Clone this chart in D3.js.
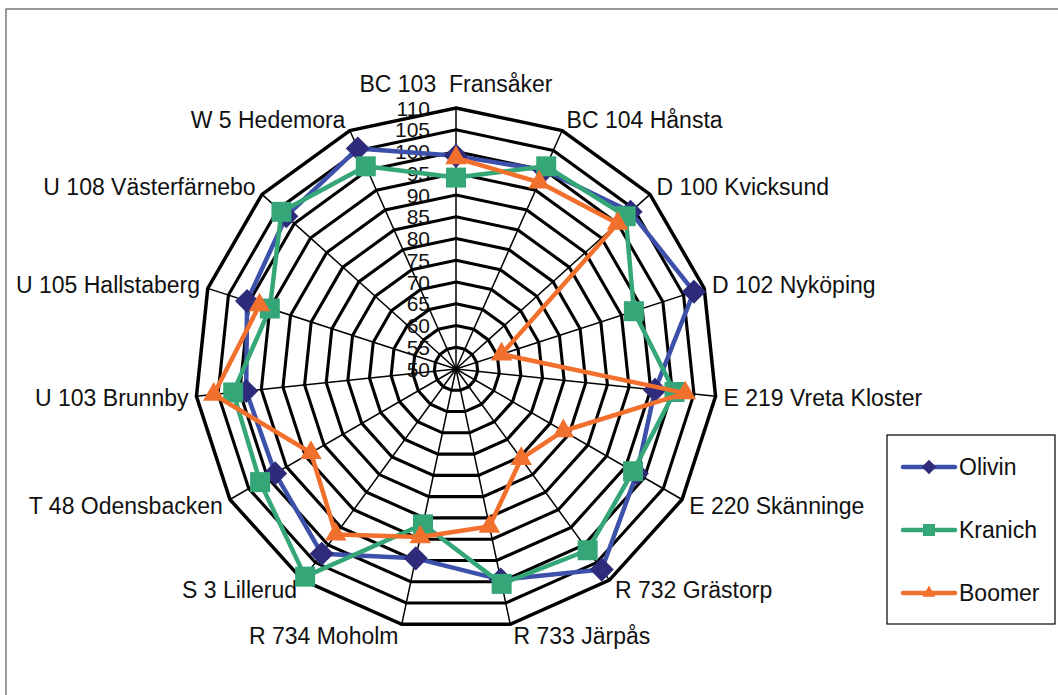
<!DOCTYPE html>
<html>
<head>
<meta charset="utf-8">
<script src="https://cdn.jsdelivr.net/npm/d3@7"></script>
<style>
  html, body { margin: 0; padding: 0; background: #fff; }
  svg { display: block; font-family: "Liberation Sans", Arial, sans-serif; }
  .cat-label { white-space: pre; }
</style>
</head>
<body>
<svg id="chart" width="1058" height="695"></svg>
<script>
// Categories (clockwise from top)
const categories = [
  'BC 103  Fransåker', 'BC 104 Hånsta', 'D 100 Kvicksund', 'D 102 Nyköping',
  'E 219 Vreta Kloster', 'E 220 Skänninge', 'R 732 Grästorp', 'R 733 Järpås',
  'R 734 Moholm', 'S 3 Lillerud', 'T 48 Odensbacken', 'U 103 Brunnby',
  'U 105 Hallstaberg', 'U 108 Västerfärnebo', 'W 5 Hedemora'
];

// Series values (null = no value)
const olivin  = [99, 100, 104, 107.5, 96, 98, 107, 99.5, 94.5, 102.5, 98, 98.5, 100.5, 102.5, 105.5];
const kranich = [94, 101, 102.5, 93, 100.5, 97, 101.5, 100.5, 86.5, 109, 102, 101.5, 95, 104, 101];
const boomer  = [98.5, 97, 100, 61, 103, 78.5, 75.5, 87, 89.5, 97, 88.5, 106, 97.5, null, null];

const seriesNames = ['Olivin', 'Kranich', 'Boomer'];
const radialTicks = [50, 55, 60, 65, 70, 75, 80, 85, 90, 95, 100, 105, 110];

// Layout
const cx = 456, cy = 369, outerR = 261;
const svg = d3.select('#chart');

// Chart frame (only top and left edges fall inside the picture)
svg.append('rect')
  .attr('x', 6).attr('y', 9)
  .attr('width', 1100).attr('height', 750)
  .attr('fill', 'none').attr('stroke', '#555').attr('stroke-width', 1.2);

const r = d3.scaleLinear().domain([50, 110]).range([0, outerR]);
const angle = d3.scalePoint()
  .domain(d3.range(categories.length + 1))
  .range([0, 2 * Math.PI]);

const g = svg.append('g').attr('transform', `translate(${cx},${cy})`);

// Grid rings
const ring = d3.lineRadial()
  .angle((d, i) => angle(i))
  .radius(d => r(d))
  .curve(d3.curveLinearClosed);

g.selectAll('.ring')
  .data(radialTicks.slice(1))
  .enter()
  .append('path')
  .attr('class', 'ring')
  .attr('d', t => ring(categories.map(() => t)))
  .attr('fill', 'none')
  .attr('stroke', '#000')
  .attr('stroke-width', t => t === 110 ? 3.5 : 3.1)
  .attr('stroke-linejoin', 'miter');

// Spokes
g.selectAll('.spoke')
  .data(categories)
  .enter()
  .append('line')
  .attr('class', 'spoke')
  .attr('x1', 0).attr('y1', 0)
  .attr('x2', (d, i) => r(110) * Math.sin(angle(i)))
  .attr('y2', (d, i) => -r(110) * Math.cos(angle(i)))
  .attr('stroke', '#000')
  .attr('stroke-width', 1.5);

// Radial tick labels
g.selectAll('.tick-label')
  .data(radialTicks)
  .enter()
  .append('text')
  .attr('class', 'tick-label')
  .attr('x', -26)
  .attr('y', t => -r(t))
  .attr('dy', '0.36em')
  .attr('text-anchor', 'end')
  .attr('font-size', 21)
  .attr('fill', '#111')
  .text(t => t);

// Category labels
g.selectAll('.cat-label')
  .data(categories)
  .enter()
  .append('text')
  .attr('class', 'cat-label')
  .each(function(d, i) {
    const a = angle(i);
    const s = Math.sin(a), c = Math.cos(a);
    const vx = outerR * s, vy = -outerR * c;
    const el = d3.select(this);
    if (Math.abs(s) < 0.01) {
      el.attr('x', vx).attr('y', vy - 24).attr('text-anchor', 'middle');
    } else {
      const gap = 2 + 6 * Math.abs(s);
      el.attr('x', vx + (s > 0 ? gap : -gap))
        .attr('y', vy - 12 * c)
        .attr('text-anchor', s > 0 ? 'start' : 'end');
    }
  })
  .attr('dy', '0.36em')
  .attr('font-size', 23)
  .attr('fill', '#111')
  .text(d => d);

// Series
const series = [
  { name: 'Olivin', values: olivin, line: '#3d50aa', marker: '#2e2b7a', symbol: 'diamond' },
  { name: 'Kranich', values: kranich, line: '#35a677', marker: '#35a677', symbol: 'square' },
  { name: 'Boomer', values: boomer, line: '#f2702e', marker: '#f2702e', symbol: 'triangle' }
];

function symbolPath(type, scale) {
  if (type === 'diamond') return d3.symbol(d3.symbolSquare, 290 * scale * scale)();
  if (type === 'square') return d3.symbol(d3.symbolSquare, 400 * scale * scale)();
  return d3.symbol(d3.symbolTriangle, 200 * scale * scale)();
}

const seriesLine = d3.lineRadial()
  .defined(d => d != null)
  .angle((d, i) => angle(i))
  .radius(d => r(d));

series.forEach(s => {
  const closed = s.values.concat([s.values[0]]);
  g.append('path')
    .attr('d', seriesLine(closed))
    .attr('fill', 'none')
    .attr('stroke', s.line)
    .attr('stroke-width', 4.5)
    .attr('stroke-linejoin', 'round');

  g.selectAll(null)
    .data(s.values.map((v, i) => ({ v, i })).filter(d => d.v != null))
    .enter()
    .append('path')
    .attr('d', symbolPath(s.symbol, 1))
    .attr('transform', d => {
      const a = angle(d.i);
      const x = r(d.v) * Math.sin(a), y = -r(d.v) * Math.cos(a);
      return `translate(${x},${y})` + (s.symbol === 'diamond' ? ' rotate(45)' : '');
    })
    .attr('fill', s.marker);
});

// Legend
const legend = svg.append('g').attr('transform', 'translate(887,435)');
legend.append('rect')
  .attr('width', 168).attr('height', 189)
  .attr('fill', '#fff').attr('stroke', '#000').attr('stroke-width', 1.2);

const legendY = d3.scalePoint().domain(seriesNames).range([32, 158]);
series.forEach(s => {
  const y = legendY(s.name);
  legend.append('line')
    .attr('x1', 16).attr('x2', 68)
    .attr('y1', y).attr('y2', y)
    .attr('stroke', s.line).attr('stroke-width', 4.5)
    .attr('stroke-linecap', 'round');
  legend.append('path')
    .attr('d', symbolPath(s.symbol, 0.6))
    .attr('transform', `translate(42,${y})` + (s.symbol === 'diamond' ? ' rotate(45)' : ''))
    .attr('fill', s.marker);
  legend.append('text')
    .attr('x', 72).attr('y', y)
    .attr('dy', '0.36em')
    .attr('font-size', 23)
    .attr('fill', '#111')
    .text(s.name);
});
</script>
</body>
</html>
